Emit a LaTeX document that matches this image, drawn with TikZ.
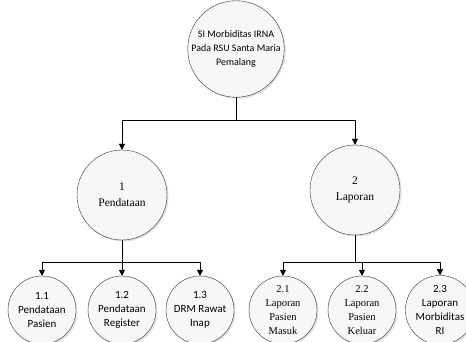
\documentclass[tikz,border=0pt]{standalone}
\usepackage{fontspec}
\setmainfont{Liberation Serif}
\newfontfamily\calfont{Carlito}
\usetikzlibrary{arrows.meta,shadows}

\begin{document}
\begin{tikzpicture}[x=1pt,y=-1pt,
    proses/.style={circle,draw=black!80,thin,fill=gray!6,align=center,inner sep=0pt,
        drop shadow={shadow xshift=1.5pt,shadow yshift=-1.5pt,fill=black!20,opacity=.6}},
    induk/.style={proses,minimum size=94pt,font=\calfont\fontsize{10}{14}\selectfont},
    besar/.style={proses,minimum size=90pt,font=\rmfamily\fontsize{11.5}{16}\selectfont},
    kecil/.style={proses,minimum size=68pt,font=\calfont\fontsize{11}{14}\selectfont},
    kecilserif/.style={proses,minimum size=68pt,font=\rmfamily\fontsize{10.5}{14}\selectfont},
    panah/.style={-{Triangle[length=6pt,width=6pt]},thin}]
    \useasboundingbox (0,0) rectangle (466,342);
    %proses utama
    \node[induk] (si) at (236,49) {SI Morbiditas IRNA\\Pada RSU Santa Maria\\Pemalang};
    %level 1
    \node[besar] (p1) at (122,195) {1\\Pendataan};
    \node[besar] (p2) at (355,190) {2\\Laporan};
    %level 2
    \node[kecil] (p11) at (42,310) {1.1\\Pendataan\\Pasien};
    \node[kecil] (p12) at (122,310) {1.2\\Pendataan\\Register};
    \node[kecil] (p13) at (200,310) {1.3\\DRM Rawat\\Inap};
    \node[kecilserif] (p21) at (283,310) {2.1\\Laporan\\Pasien\\Masuk};
    \node[kecilserif] (p22) at (362,310) {2.2\\Laporan\\Pasien\\Keluar};
    \node[kecil] (p23) at (440,310) {2.3\\Laporan\\Morbiditas\\RI};
    %garis
    \coordinate (j0) at (236,120);
    \coordinate (j1) at (122,262);
    \coordinate (j2) at (355,262);
    \draw (si) -- (j0);
    \draw[panah] (j0) -| (p1);
    \draw[panah] (j0) -| (p2);
    \draw (p1) -- (j1);
    \draw[panah] (j1) -| (p11);
    \draw[panah] (j1) -- (p12);
    \draw[panah] (j1) -| (p13);
    \draw (p2) -- (j2);
    \draw[panah] (j2) -| (p21);
    \draw[panah] (j2) -| (p22);
    \draw[panah] (j2) -| (p23);
\end{tikzpicture}
\end{document}
